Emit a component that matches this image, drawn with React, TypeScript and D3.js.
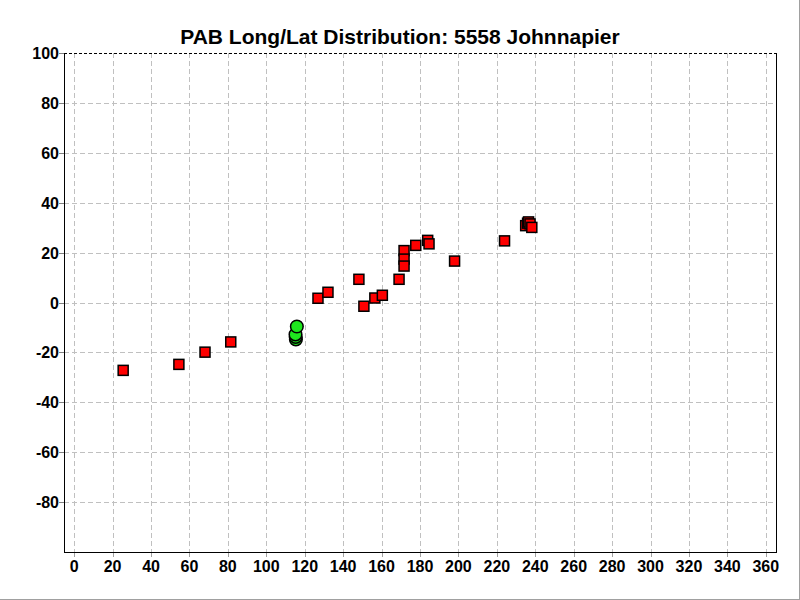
import React from "react";
import * as d3 from "d3";

const title = "PAB Long/Lat Distribution: 5558 Johnnapier";
const xTicks = d3.range(0, 361, 20);
const yTicks = [100, 80, 60, 40, 20, 0, -20, -40, -60, -80];

// red squares: longitude / latitude
const squareLon = [25.5, 54.5, 68.1, 81.5, 126.9, 132.1, 148.2, 150.8, 156.5, 160.4, 169.1, 171.7, 171.7, 171.7, 177.8, 184.0, 184.7, 198.0, 224.0, 235.0, 236.0, 236.5, 237.3, 238.2];
const squareLat = [-27.2, -24.8, -19.9, -15.8, 1.7, 4.1, 9.3, -1.5, 1.8, 2.9, 9.3, 20.8, 17.4, 14.6, 22.9, 24.9, 23.5, 16.6, 24.7, 30.8, 31.8, 32.3, 31.5, 30.1];

// green circles
const circleLon = [115.4, 115.3, 115.2, 115.9];
const circleLat = [-14.8, -13.8, -12.8, -9.6];

const W = 800, H = 600;
const L = 64, R = 776, T = 53, B = 552;

export default function App() {
  const x = d3.scaleLinear().domain([-5.3, 365.3]).range([L, R]);
  const y = d3.scaleLinear().domain([-100, 100]).range([B, T]);
  const font = "'Liberation Sans', Arial, sans-serif";
  return (
    <svg width={W} height={H} style={{ position: "absolute", left: 0, top: 0, background: "#fff" }}>
      <rect x={0} y={0} width={W} height={H} fill="#fff" />
      <line x1={W - 0.5} y1={0} x2={W - 0.5} y2={H} stroke="#a0a0a0" />
      <line x1={0} y1={H - 0.5} x2={W} y2={H - 0.5} stroke="#a0a0a0" />
      <text x={400} y={44} textAnchor="middle" fontFamily={font} fontWeight="bold" fontSize={21} fill="#000">{title}</text>
      {/* grid */}
      {xTicks.map((t) => (
        <g key={"x" + t}>
          <line x1={Math.round(x(t)) + 0.5} x2={Math.round(x(t)) + 0.5} y1={T} y2={B} stroke="#c0c0c0" strokeDasharray="5,3" />
          <line x1={Math.round(x(t)) + 0.5} x2={Math.round(x(t)) + 0.5} y1={B} y2={B + 5} stroke="#a0a0a0" />
          <text x={x(t)} y={572} textAnchor="middle" fontFamily={font} fontWeight="bold" fontSize={16} fill="#000">{t}</text>
        </g>
      ))}
      {yTicks.map((t) => (
        <g key={"y" + t}>
          {t !== 100 && (
            <line x1={L} x2={R} y1={Math.round(y(t)) + 0.5} y2={Math.round(y(t)) + 0.5} stroke="#c0c0c0" strokeDasharray="5,3" />
          )}
          <line x1={L - 5} x2={L} y1={Math.round(y(t)) + 0.5} y2={Math.round(y(t)) + 0.5} stroke="#808080" />
          <text x={59} y={y(t) + 6} textAnchor="end" fontFamily={font} fontWeight="bold" fontSize={16} fill="#000">{t}</text>
        </g>
      ))}
      {/* frame */}
      <line x1={L} x2={R} y1={T + 0.5} y2={T + 0.5} stroke="#000" strokeDasharray="3,2" />
      <line x1={R + 0.5} x2={R + 0.5} y1={T} y2={B} stroke="#000" />
      <line x1={L + 0.5} x2={L + 0.5} y1={T} y2={B + 1} stroke="#000" />
      <line x1={L} x2={R + 1} y1={B + 0.5} y2={B + 0.5} stroke="#000" />
      {/* circles */}
      {circleLon.map((lon, i) => (
        <circle key={"c" + i} cx={x(lon)} cy={y(circleLat[i])} r={6.3} fill="#1ee61e" stroke="#000" strokeWidth={1.5} />
      ))}
      {/* squares */}
      {squareLon.map((lon, i) => (
        <rect key={"s" + i} x={x(lon) - 5} y={y(squareLat[i]) - 5} width={10} height={10} fill="#ff0000" stroke="#000" strokeWidth={1.5} />
      ))}
    </svg>
  );
}
